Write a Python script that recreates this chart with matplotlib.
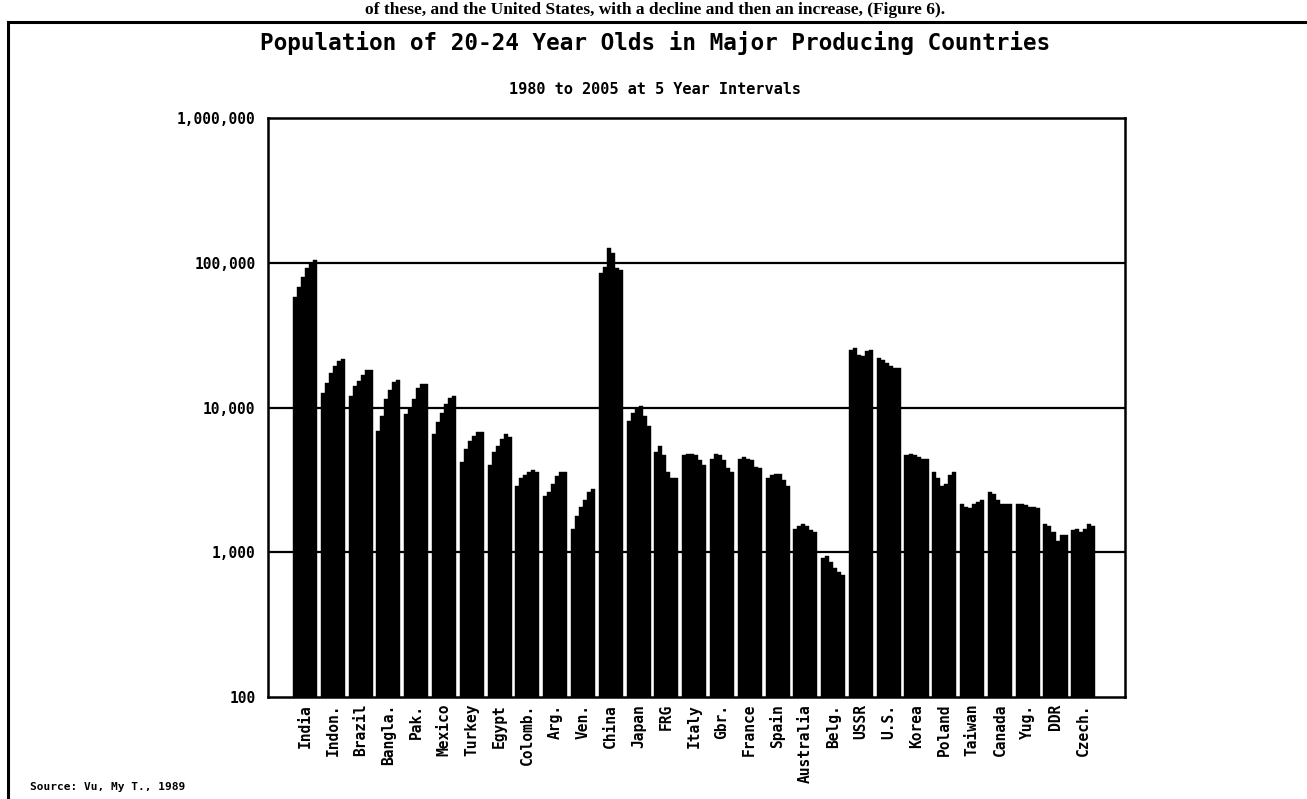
import matplotlib
matplotlib.use("Agg")
import matplotlib.pyplot as plt
import numpy as np
from matplotlib.lines import Line2D

# ---- data (thousands of persons aged 20-24) ----
countries = ["India", "Indon.", "Brazil", "Bangla.", "Pak.", "Mexico", "Turkey",
             "Egypt", "Colomb.", "Arg.", "Ven.", "China", "Japan", "FRG", "Italy",
             "Gbr.", "France", "Spain", "Australia", "Belg.", "USSR", "U.S.",
             "Korea", "Poland", "Taiwan", "Canada", "Yug.", "DDR", "Czech."]
years = [1980, 1985, 1990, 1995, 2000, 2005]

india     = [58300, 68300, 80100, 91600, 100000, 104500]
indon     = [12540, 14700, 17230, 19140, 20720, 21530]
brazil    = [11880, 13930, 15080, 16780, 18160, 18160]
bangla    = [6800, 8640, 11260, 13210, 14840, 15490]
pak       = [8880, 9620, 11260, 13570, 14530, 14530]
mexico    = [6460, 7780, 9120, 10400, 11570, 11880]
turkey    = [4120, 5090, 5810, 6290, 6700, 6630]
egypt     = [3900, 4830, 5360, 5960, 6460, 6120]
colomb    = [2770, 3160, 3330, 3510, 3600, 3510]
arg       = [2360, 2490, 2840, 3240, 3510, 3510]
ven       = [1352, 1670, 1960, 2180, 2490, 2620]
china     = [84500, 93900, 125900, 116200, 91600, 89100]
japan     = [7980, 9120, 9870, 10130, 8640, 7370]
frg       = [4830, 5360, 4570, 3510, 3160, 3160]
italy     = [4570, 4700, 4700, 4570, 4220, 3900]
gbr       = [4340, 4700, 4570, 4220, 3700, 3510]
france    = [4340, 4460, 4340, 4220, 3800, 3700]
spain     = [3160, 3330, 3365, 3365, 3070, 2770]
australia = [1352, 1425, 1463, 1425, 1316, 1281]
belg      = [817, 839, 754, 678, 626, 594]
ussr      = [24960, 25650, 23050, 22440, 24290, 24960]
us        = [21880, 21290, 20200, 19140, 18650, 18650]
korea     = [4570, 4700, 4570, 4460, 4340, 4340]
poland    = [3510, 3160, 2770, 2840, 3330, 3510]
taiwan    = [2060, 1960, 1907, 2060, 2120, 2180]
canada    = [2490, 2420, 2180, 2060, 2060, 2060]
yug       = [2060, 2060, 2010, 1960, 1960, 1907]
ddr       = [1463, 1425, 1281, 1092, 1216, 1216]
czech     = [1316, 1352, 1281, 1352, 1463, 1425]

series = [india, indon, brazil, bangla, pak, mexico, turkey, egypt, colomb, arg,
          ven, china, japan, frg, italy, gbr, france, spain, australia, belg,
          ussr, us, korea, poland, taiwan, canada, yug, ddr, czech]

ytick_vals = [100, 1000, 10000, 100000, 1000000]
ytick_labels = ["100", "1,000", "10,000", "100,000", "1,000,000"]

title = "Population of 20-24 Year Olds in Major Producing Countries"
subtitle = "1980 to 2005 at 5 Year Intervals"
source = "Source: Vu, My T., 1989"
top_text = "of these, and the United States, with a decline and then an increase, (Figure 6)."

# ---- figure ----
W, H = 1307, 799
fig = plt.figure(figsize=(W / 100, H / 100), dpi=100)
fig.patch.set_facecolor("white")

ax_l, ax_r, ax_t, ax_b = 268, 1125, 118, 697
ax = fig.add_axes([ax_l / W, 1 - ax_b / H, (ax_r - ax_l) / W, (ax_b - ax_t) / H])

mono = "DejaVu Sans Mono"
group_w = 0.865
bw = group_w / len(years)
for i, vals in enumerate(series):
    for j, v in enumerate(vals):
        x = i - group_w / 2 + (j + 0.5) * bw
        ax.bar(x, v, width=bw, bottom=100, color="black", edgecolor="black",
               linewidth=0.3, zorder=3)

ax.set_yscale("log")
ax.set_ylim(100, 1000000)
ax.set_xlim(-1.33, len(countries) - 1 + 1.5)
ax.set_yticks(ytick_vals)
ax.set_yticklabels(ytick_labels, fontfamily=mono, fontweight="bold", fontsize=10.5)
ax.yaxis.set_minor_locator(matplotlib.ticker.NullLocator())
ax.set_xticks(range(len(countries)))
ax.set_xticklabels(countries, rotation=90, fontfamily=mono, fontweight="bold",
                   fontsize=10.5, va="top", ha="center")
ax.tick_params(axis="both", length=0)
ax.tick_params(axis="y", pad=9)
ax.tick_params(axis="x", pad=5)

for v in [1000, 10000, 100000]:
    ax.axhline(v, color="black", linewidth=1.6, zorder=1)

for s in ax.spines.values():
    s.set_linewidth(1.8)
    s.set_color("black")

# titles
fig.text(655 / W, 1 - 43 / H, title, ha="center", va="center",
         fontfamily=mono, fontweight="bold", fontsize=16.3)
fig.text(655 / W, 1 - 90 / H, subtitle, ha="center", va="center",
         fontfamily=mono, fontweight="bold", fontsize=11)
fig.text(30 / W, 1 - 787 / H, source, ha="left", va="center",
         fontfamily=mono, fontweight="bold", fontsize=8)
fig.text(655 / W, 1 - 2 / H, top_text, ha="center", va="top",
         fontfamily="Liberation Serif", fontweight="bold", fontsize=12.5)

# outer frame lines
fig.add_artist(Line2D([8 / W, 1.0], [1 - 22 / H, 1 - 22 / H], color="black",
                      linewidth=2.2, transform=fig.transFigure))
fig.add_artist(Line2D([8 / W, 8 / W], [1 - 22 / H, 0.0], color="black",
                      linewidth=2.2, transform=fig.transFigure))

fig.savefig("out.png", dpi=100, facecolor="white")
